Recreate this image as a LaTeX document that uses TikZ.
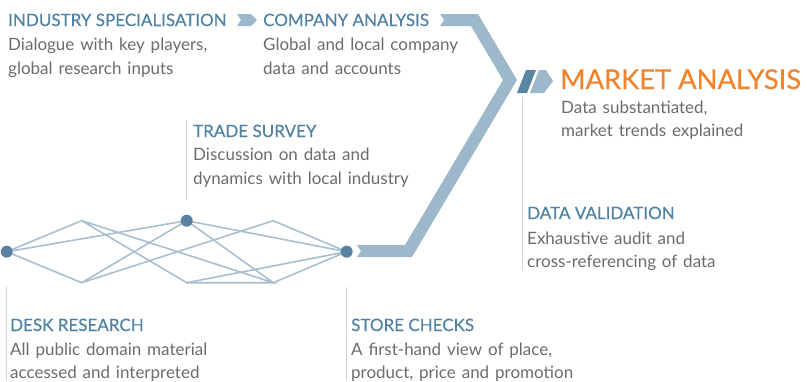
\documentclass[tikz,border=0pt]{standalone}
\usepackage{fontspec}
\setmainfont[WordSpace=1.35]{Lato}
\newfontfamily\headfont[FakeBold=0.35]{Lato}
\definecolor{headblue}{HTML}{4F82A3}
\definecolor{bodygray}{HTML}{6B6B6B}
\definecolor{bandblue}{HTML}{9DB8CA}
\definecolor{darkslash}{HTML}{5A86A4}
\definecolor{hubblue}{HTML}{5A819F}
\definecolor{meshblue}{HTML}{A7BFCE}
\definecolor{guidegray}{HTML}{D3D3D3}
\definecolor{orangehead}{HTML}{F1832B}
\begin{document}
\begin{tikzpicture}[x=1pt,y=-1pt,
  head/.style={anchor=base west, inner sep=0, text=headblue, font=\headfont\fontsize{17}{20}\selectfont},
  bighead/.style={anchor=base west, inner sep=0, text=orangehead, font=\headfont\fontsize{27.3}{30}\selectfont},
  body/.style={anchor=base west, inner sep=0, text=bodygray, font=\fontsize{17}{20}\selectfont},
  hub/.style={circle, fill=hubblue, minimum size=12pt, inner sep=0},
  mesh/.style={draw=meshblue, line width=1.6pt},
  guide/.style={draw=guidegray, line width=0.9pt},
  bandfill/.style={fill=bandblue}]
\useasboundingbox (0,0) rectangle (807,381);

% main band (Y shape)
\fill[bandfill] (440,14) -- (478,14) -- (517,80) -- (412,257) -- (357,257) -- (361,251)
  -- (357,245) -- (405,245) -- (503,80) -- (471,26) -- (440,26) -- (444,20) -- cycle;
% small chevron
\fill[bandfill] (237,14) -- (251,14) -- (257,20) -- (251,26) -- (237,26) -- (241,20) -- cycle;
% slashes
\fill[darkslash] (526,70) -- (536,70) -- (527,93) -- (517,93) -- cycle;
\fill[bandfill] (539,70) -- (546,70) -- (553,81) -- (544,93) -- (530,93) -- cycle;

% network
\coordinate (pL) at (6.7,251.7);
\coordinate (pM) at (186.7,220.7);
\coordinate (pR) at (346.7,251.7);
\coordinate (t1) at (81.7,220.7);
\coordinate (t3) at (273.3,220.7);
\coordinate (b1) at (81.7,282.7);
\coordinate (b2) at (186.7,282.7);
\coordinate (b3) at (273.3,282.7);
\draw[mesh] (pL) -- (t1) -- (b2) -- (b3) -- (t1);
\draw[mesh] (pL) -- (pM);
\draw[mesh] (pL) -- (b1) -- (pM);
\draw[mesh] (b1) -- (t3) -- (pR);
\draw[mesh] (pM) -- (pR);
\draw[mesh] (pM) -- (b3) -- (pR);
\draw[mesh] (b2) -- (pR);
\node[hub] (L) at (pL) {};
\node[hub] (M) at (pM) {};
\node[hub] (R) at (pR) {};

% guide lines
\coordinate (gL1) at (6.7,287); \coordinate (gL2) at (6.7,381);
\coordinate (gM1) at (186.7,120); \coordinate (gM2) at (186.7,200);
\coordinate (gR1) at (346.7,287); \coordinate (gR2) at (346.7,381);
\coordinate (gD1) at (522.7,97); \coordinate (gD2) at (522.7,270);
\draw[guide] (gL1) -- (gL2);
\draw[guide] (gM1) -- (gM2);
\draw[guide] (gR1) -- (gR2);
\draw[guide] (gD1) -- (gD2);

% texts
\node[head] (ind-h) at (8,26) {INDUSTRY SPECIALISATION};
\node[body] (ind-1) at (8,50.5) {Dialogue with key players,};
\node[body] (ind-2) at (8,74) {global research inputs};

\node[head] (com-h) at (263,26) {COMPANY ANALYSIS};
\node[body] (com-1) at (263,50.5) {Global and local company};
\node[body] (com-2) at (263,74) {data and accounts};

\node[bighead] (mkt-h) at (560,89) {MARKET ANALYSIS};
\node[body] (mkt-1) at (561,113) {Data substantiated,};
\node[body] (mkt-2) at (561,136) {market trends explained};

\node[head] (trd-h) at (193,137) {TRADE SURVEY};
\node[body] (trd-1) at (193,160.5) {Discussion on data and};
\node[body] (trd-2) at (193,184) {dynamics with local industry};

\node[head] (val-h) at (527,219) {DATA VALIDATION};
\node[body] (val-1) at (527,244) {Exhaustive audit and};
\node[body] (val-2) at (527,267) {cross-referencing of data};

\node[head] (dsk-h) at (10,331) {DESK RESEARCH};
\node[body] (dsk-1) at (10,355) {All public domain material};
\node[body] (dsk-2) at (10,378) {accessed and interpreted};

\node[head] (sto-h) at (351,331) {STORE CHECKS};
\node[body] (sto-1) at (351,355) {A first-hand view of place,};
\node[body] (sto-2) at (351,378) {product, price and promotion};
\end{tikzpicture}
\end{document}
